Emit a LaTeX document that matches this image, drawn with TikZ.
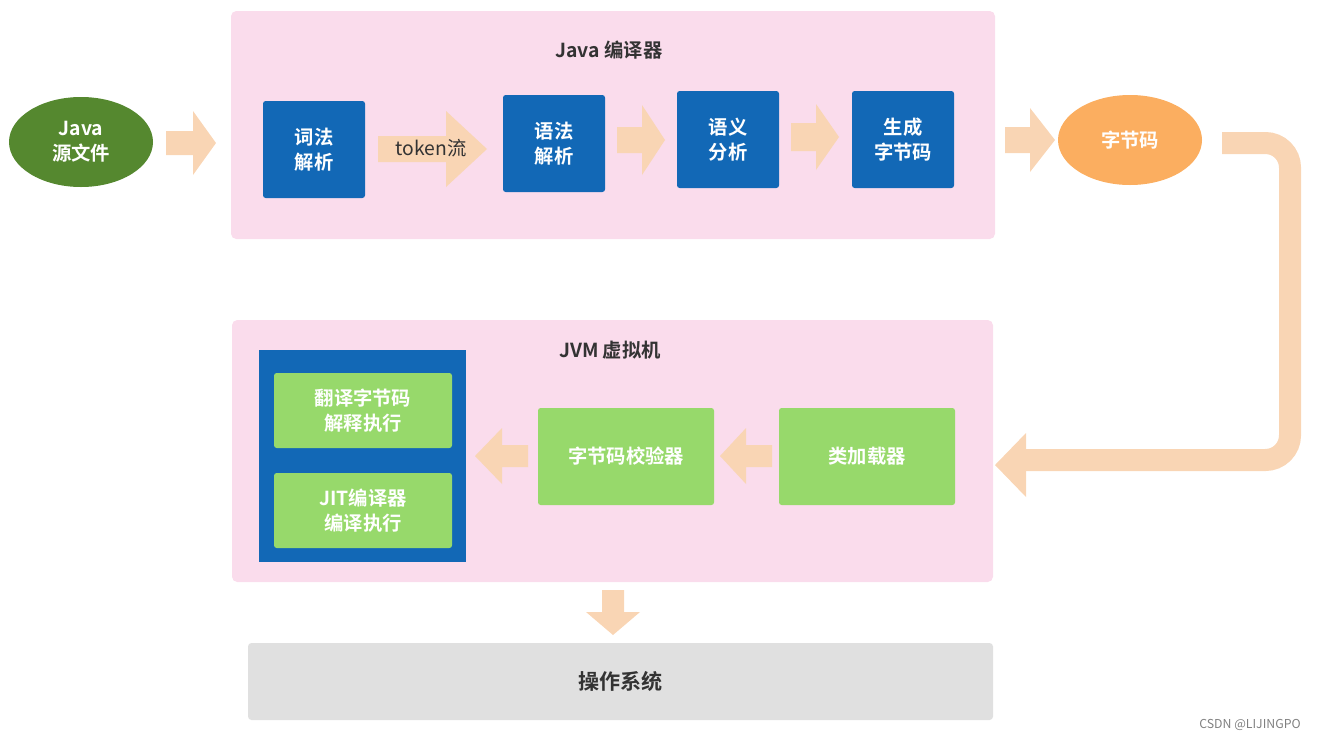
\documentclass[tikz,border=0pt]{standalone}
\usepackage{fontspec}
\setmainfont{Noto Sans CJK SC}[BoldFont={Noto Sans CJK SC Bold}]
\usetikzlibrary{shapes.geometric,shapes.arrows}
\definecolor{pinkbg}{HTML}{FADCEC}
\definecolor{blu}{HTML}{1268B6}
\definecolor{grn}{HTML}{97D96B}
\definecolor{arr}{HTML}{F9D5B4}
\definecolor{dgrn}{HTML}{55882F}
\definecolor{orng}{HTML}{FBAE60}
\definecolor{osgray}{HTML}{E0E0E0}
\definecolor{ttl}{HTML}{333333}
\tikzset{
  txt/.style={font=\fontsize{11}{14}\selectfont\bfseries, align=center},
  bbox/.style={txt, fill=blu, text=white, rounded corners=1.5pt, inner sep=0},
  gbox/.style={txt, fill=grn, text=white, rounded corners=1.5pt, inner sep=0},
  panel/.style={fill=pinkbg, rounded corners=3pt},
  blk/.style={fill=arr},
}
\begin{document}
\begin{tikzpicture}[x=0.02cm,y=-0.02cm]
\useasboundingbox (0,0) rectangle (1317,741);
% panels
\fill[panel] (231,11) rectangle (995,239);
\node[txt, text=ttl] (t1) at (609,50) {Java 编译器};
\fill[panel] (232,320) rectangle (993,582);
\node[txt, text=ttl] (t2) at (610,350) {JVM 虚拟机};
% source and bytecode
\node[txt, ellipse, fill=dgrn, text=white, minimum width=144*0.02cm, minimum height=90*0.02cm, inner sep=0] (src) at (81,142) {Java\\源文件};
\node[txt, ellipse, fill=orng, text=white, minimum width=144*0.02cm, minimum height=90*0.02cm, inner sep=0] (bc) at (1130,140) {字节码};
% compiler boxes
\node[bbox, minimum width=102*0.02cm, minimum height=97*0.02cm] (lex) at (314,149.5) {词法\\解析};
\node[bbox, minimum width=102*0.02cm, minimum height=97*0.02cm] (syn) at (554,143.5) {语法\\解析};
\node[bbox, minimum width=102*0.02cm, minimum height=97*0.02cm] (sem) at (728,139.5) {语义\\分析};
\node[bbox, minimum width=102*0.02cm, minimum height=97*0.02cm] (gen) at (903,139.5) {生成\\字节码};
% jvm
\fill[blu] (259,350) rectangle (466,562);
\node[gbox, minimum width=178*0.02cm, minimum height=75*0.02cm] (interp) at (363,410.5) {翻译字节码\\解释执行};
\node[gbox, minimum width=178*0.02cm, minimum height=75*0.02cm] (jit) at (363,510.5) {JIT编译器\\编译执行};
\node[gbox, minimum width=176*0.02cm, minimum height=97*0.02cm] (ver) at (626,456.5) {字节码校验器};
\node[gbox, minimum width=176*0.02cm, minimum height=97*0.02cm] (load) at (867,456.5) {类加载器};
\node[font=\fontsize{12}{14}\selectfont\bfseries, text=ttl, fill=osgray, rounded corners=2pt, minimum width=745*0.02cm, minimum height=77*0.02cm] (os) at (620.5,681.5) {操作系统};
% block arrows
\fill[blk] (166,131) -- (193,131) -- (193,111) -- (216,143) -- (193,175) -- (193,155) -- (166,155) -- cycle;
\fill[blk] (378,136) -- (446,136) -- (446,111) -- (487,149) -- (446,187) -- (446,162) -- (378,162) -- cycle;
\node[font=\fontsize{11}{14}\selectfont, text=ttl] (tok) at (431,148) {token流};
\fill[blk] (617,127) -- (642,127) -- (642,105) -- (665,140) -- (642,175) -- (642,153) -- (617,153) -- cycle;
\fill[blk] (791,123) -- (816,123) -- (816,104) -- (839,137) -- (816,170) -- (816,151) -- (791,151) -- cycle;
\fill[blk] (1005,127) -- (1030,127) -- (1030,108) -- (1055,140) -- (1030,172) -- (1030,153) -- (1005,153) -- cycle;
\draw[arr, line width=0.44cm, rounded corners=14pt] (1222,143) -- (1290,143) -- (1290,460) -- (1024,460);
\fill[blk] (1026,433) -- (995,465) -- (1026,497) -- cycle;
\fill[blk] (772,445) -- (746,445) -- (746,428) -- (720,456) -- (746,484) -- (746,467) -- (772,467) -- cycle;
\fill[blk] (528,445) -- (502,445) -- (502,428) -- (475,456) -- (502,484) -- (502,467) -- (528,467) -- cycle;
\fill[blk] (602,590) -- (624,590) -- (624,612) -- (640,612) -- (613,635) -- (586,612) -- (602,612) -- cycle;
\node[font=\fontsize{7}{8}\selectfont, text=gray] (wm) at (1250,725) {CSDN @LIJINGPO};
\end{tikzpicture}
\end{document}
